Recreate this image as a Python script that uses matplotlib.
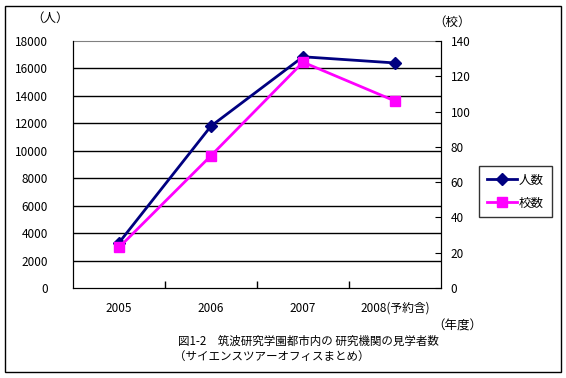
import matplotlib.pyplot as plt
from matplotlib.patches import Rectangle

plt.rcParams['font.family'] = ['Noto Sans CJK JP', 'DejaVu Sans']

# data
years = ['2005', '2006', '2007', '2008(予約含)']
visitors = [3300, 11800, 16850, 16400]   # 人数 (left axis)
schools = [23, 75, 128, 106]             # 校数 (right axis)
left_ticks = list(range(0, 18001, 2000))
right_ticks = list(range(0, 141, 20))

W, H = 566, 378
fig = plt.figure(figsize=(W / 100, H / 100), dpi=100)

# outer frame of the picture
fig.patches.append(Rectangle((5 / W, 6 / H), 556 / W, 366 / H, transform=fig.transFigure,
                             fill=False, edgecolor='black', linewidth=1))

x0, x1, y0, y1 = 73, 441, 41, 288
ax = fig.add_axes([x0 / W, 1 - y1 / H, (x1 - x0) / W, (y1 - y0) / H])
x = list(range(len(years)))

ax.set_xlim(-0.5, len(years) - 0.5)
ax.set_ylim(0, 18000)
ax.set_yticks(left_ticks)
ax.set_yticklabels([str(v) for v in left_ticks], fontsize=8.5)
ax.tick_params(axis='y', length=0, pad=18)
for v in left_ticks[1:-1]:
    ax.axhline(v, color='black', linewidth=1, zorder=1)

ax.set_xticks([i - 0.5 for i in range(1, len(years))])
ax.set_xticklabels([])
ax.tick_params(axis='x', direction='in', length=5, width=1)
for i, lab in enumerate(years):
    ax.text(i, -0.082, lab, transform=ax.get_xaxis_transform(), ha='center', va='center', fontsize=8.5)

for s in ['left', 'bottom', 'right']:
    ax.spines[s].set_color('black')
ax.spines['top'].set_color('#808080')

ax2 = ax.twinx()
ax2.set_ylim(0, 140)
ax2.set_yticks(right_ticks)
ax2.set_yticklabels([str(v) for v in right_ticks], fontsize=8.5)
ax2.tick_params(axis='y', direction='in', length=4, pad=7)
ax2.spines['top'].set_visible(False)

l1, = ax.plot(x, visitors, color='#000080', linewidth=2, marker='D', markersize=6, zorder=3, label='人数')
l2, = ax2.plot(x, schools, color='#FF00FF', linewidth=2, marker='s', markersize=7, zorder=4, label='校数')
ax.set_zorder(ax2.get_zorder() - 1)
ax2.patch.set_visible(False)

fig.legend(handles=[l1, l2], loc='upper left', bbox_to_anchor=(479 / W, 1 - 166 / H),
           frameon=True, fancybox=False, edgecolor='black', fontsize=9,
           handlelength=2.4, borderpad=0.6, labelspacing=0.8, handletextpad=0.2,
           borderaxespad=0)

fig.text(50 / W, 1 - 18 / H, '（人）', ha='center', va='center', fontsize=9)
fig.text(452 / W, 1 - 22 / H, '（校）', ha='center', va='center', fontsize=9)
fig.text(457 / W, 1 - 326 / H, '（年度）', ha='center', va='center', fontsize=9)
fig.text(178 / W, 1 - 341 / H, '図1-2　筑波研究学園都市内の 研究機関の見学者数', ha='left', va='center', fontsize=8.3)
fig.text(174 / W, 1 - 356 / H, '（サイエンスツアーオフィスまとめ）', ha='left', va='center', fontsize=8.3)

fig.savefig('out.png', dpi=100)
